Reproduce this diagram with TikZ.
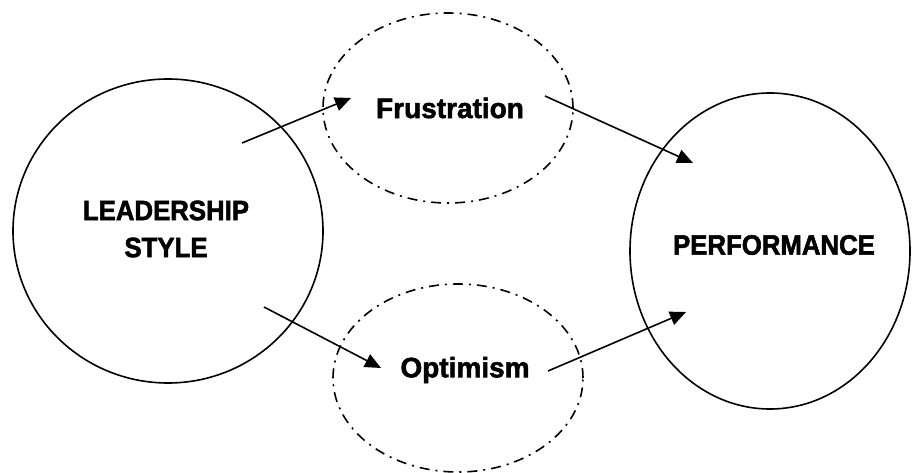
\documentclass[tikz,border=0pt]{standalone}
\usepackage{fontspec}
\setmainfont{Liberation Sans}
\newfontfamily\heavywide[FakeBold=2]{Liberation Sans}
\newfontfamily\heavynarrow[FakeBold=2,FakeStretch=0.92]{Liberation Sans}
\usetikzlibrary{shapes.geometric,arrows.meta}
\begin{document}
\begin{tikzpicture}[x=1pt,y=-1pt,
  solidring/.style={ellipse,draw,line width=1.6pt,inner sep=0pt},
  dotring/.style={ellipse,draw,line width=1.6pt,inner sep=0pt,
    dash pattern=on 10pt off 6pt on 2pt off 6pt},
  lbl/.style={font=\heavywide\fontsize{28}{37}\selectfont\bfseries,align=center},
  caplbl/.style={font=\heavynarrow\fontsize{28}{37}\selectfont\bfseries,align=center},
  link/.style={line width=1.6pt,-{Triangle[length=16pt,width=14pt]}}]
\useasboundingbox (0,0) rectangle (912,473);
% main constructs
\node[solidring,minimum width=310pt,minimum height=304pt] (lead) at (168,231) {};
\node[solidring,minimum width=280pt,minimum height=316pt] (perf) at (770,251) {};
% mediators
\node[dotring,minimum width=250pt,minimum height=190pt] (frus) at (448,108) {};
\node[dotring,minimum width=250pt,minimum height=188pt] (opti) at (458,378) {};
% labels
\node[caplbl] (leadtxt) at (166,229) {LEADERSHIP\\STYLE};
\node[caplbl] (perftxt) at (774,245) {PERFORMANCE};
\node[lbl] (frustxt) at (450,108) {Frustration};
\node[lbl] (optitxt) at (465,370) {Optimism};
% arrow ends
\coordinate (a1s) at (242,143); \coordinate (a1e) at (351,98);
\coordinate (a2s) at (264,307); \coordinate (a2e) at (381,368);
\coordinate (a3s) at (545,96);  \coordinate (a3e) at (693,163);
\coordinate (a4s) at (548,371); \coordinate (a4e) at (686,312);
\draw[link] (a1s) -- (a1e);
\draw[link] (a2s) -- (a2e);
\draw[link] (a3s) -- (a3e);
\draw[link] (a4s) -- (a4e);
\end{tikzpicture}
\end{document}
